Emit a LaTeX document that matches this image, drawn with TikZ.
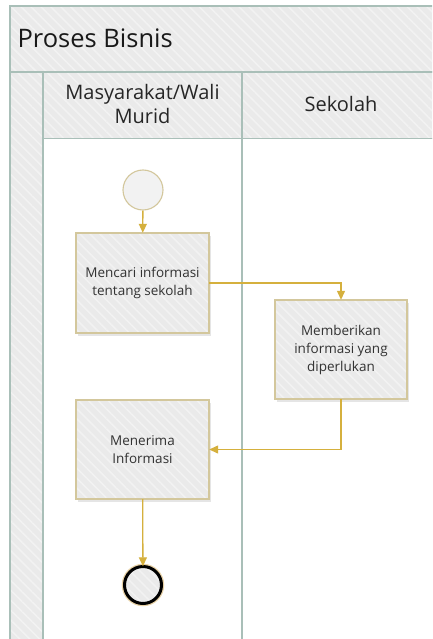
\documentclass[tikz,border=0pt]{standalone}
\usepackage{fontspec}
\setmainfont{Open Sans}
\usetikzlibrary{arrows.meta,shadows,patterns.meta,calc}

\definecolor{laneline}{HTML}{A9BFB8}
\definecolor{lanefill}{HTML}{EAEAEA}
\definecolor{stripe}{HTML}{F2F2F2}
\definecolor{boxline}{HTML}{D3C79C}
\definecolor{boxfill}{HTML}{EAEAEA}
\definecolor{flow}{HTML}{D5B03D}
\definecolor{txt}{HTML}{333333}

\tikzset{
  hatched/.style={fill=#1,
    postaction={pattern={Lines[angle=-45,distance=7pt,line width=1.6pt]},
      pattern color=stripe}},
  rim/.style 2 args={postaction={draw=#1, line width=#2}},
  lanepart/.style={hatched=lanefill, rim={laneline}{1.6pt}},
  task/.style={rectangle, hatched=boxfill, rim={boxline}{1.1pt},
    text=txt, align=center,
    font=\fontsize{13.5}{18}\selectfont,
    drop shadow={shadow xshift=1.5pt, shadow yshift=-2.5pt, opacity=0.2, fill=black!50}},
  startev/.style={circle, draw=boxline, line width=1.1pt, fill=boxfill!60!white,
    minimum size=40pt, inner sep=0pt},
  endev/.style={circle, hatched=boxfill, rim={black}{3pt},
    minimum size=37pt, inner sep=0pt,
    preaction={draw=flow!60!brown, line width=5.5pt, opacity=0.45}},
  flowline/.style={draw=flow, line width=1.3pt,
    -{Triangle[width=8pt,length=9pt]}},
  lanehead/.style={text=black!85, align=center,
    font=\fontsize{20}{24}\selectfont},
}

\begin{document}
\begin{tikzpicture}[x=1pt,y=-1pt]
\useasboundingbox (0,0) rectangle (432,639);
\clip (0,0) rectangle (432,639);
\fill[white] (0,0) rectangle (432,639);

% pool: title band, lane strip and lane headers
\path[lanepart] (10,6) rectangle (450,72);
\path[lanepart] (10,72) rectangle (43,660);
\path[lanepart] (43,72) rectangle (242,138.5);
\path[lanepart] (242,72) rectangle (450,138.5);
% lane bodies
\draw[laneline, line width=1.6pt, fill=white] (43,138.5) rectangle (242,660);
\draw[laneline, line width=1.6pt, fill=white] (242,138.5) rectangle (450,660);

\node[anchor=west, font=\fontsize{25.5}{30}\selectfont, text=black!90] (title) at (14,38) {Proses Bisnis};
\node[lanehead] (lane1) at (142.5,104.5) {Masyarakat/Wali\\Murid};
\node[lanehead] (lane2) at (341,104.5) {Sekolah};

% flow elements
\node[startev] (start) at (143,190) {};
\node[task, minimum width=133pt, minimum height=100pt] (b1) at (142.5,283) {Mencari informasi\\tentang sekolah};
\node[task, minimum width=132pt, minimum height=99pt] (b2) at (341,349.5) {Memberikan\\informasi yang\\diperlukan};
\node[task, minimum width=133pt, minimum height=99pt] (b3) at (142.5,449.5) {Menerima\\Informasi};
\node[endev] (end) at (143,585) {};

% sequence flows
\draw[flowline] (start) -- (b1);
\draw[flowline] (b1.east) -| (b2.north);
\draw[flowline] (b2.south) |- (b3.east);
\draw[flowline] (b3) -- (end);
\end{tikzpicture}
\end{document}
